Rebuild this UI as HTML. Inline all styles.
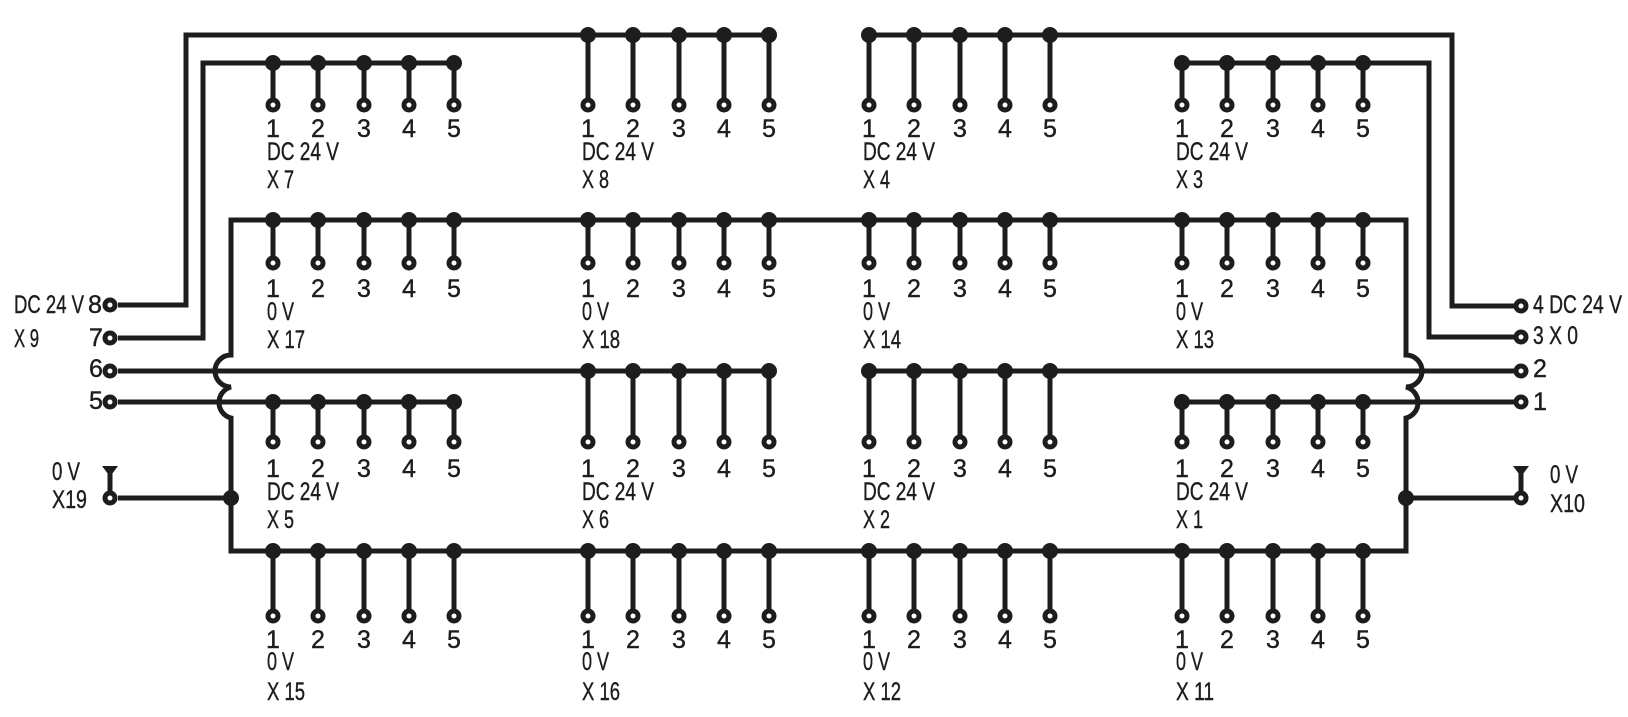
<!DOCTYPE html>
<html><head><meta charset="utf-8"><style>
html,body{margin:0;padding:0;background:#fff;}
svg{display:block}
text{font-family:"Liberation Sans",sans-serif;font-size:25px;fill:#1d1d1f;stroke:#1d1d1f;stroke-width:0.4}
</style></head><body>
<svg width="1628" height="717" viewBox="0 0 1628 717" xmlns="http://www.w3.org/2000/svg">
<g fill="none" stroke="#1d1d1f" stroke-width="5">
<path d="M118 305 H186 V35 H768"/>
<path d="M869 35 H1452 V306 H1515"/>
<path d="M118 338 H203 V63 H455"/>
<path d="M1182 63 H1429 V337 H1515"/>
<path d="M231 551 V418 A16 16 0 0 1 231 387 A16 16 0 0 1 231 355 V220 H1406 V355 A16 16 0 0 1 1406 387 A16 16 0 0 1 1406 418 V551 Z"/>
<path d="M118 371 H768"/>
<path d="M118 402 H455"/>
<path d="M869 371 H1515"/>
<path d="M1182 402 H1515"/>
<path d="M118 498 H231"/>
<path d="M1406 498 H1515"/>
<path d="M110 498 V472"/>
<path d="M1521 498 V472"/>
</g>
<g fill="#1d1d1f">
<path d="M102 466 L118 466 L112 474 L108 474 Z"/>
<path d="M1513 466 L1529 466 L1523 474 L1519 474 Z"/>
<circle cx="231" cy="498" r="8"/>
<circle cx="1406" cy="498" r="8"/>
</g>
<g fill="#fff" stroke="#1d1d1f" stroke-width="5">
<circle cx="110" cy="305" r="5"/><circle cx="110" cy="338" r="5"/>
<circle cx="110" cy="371" r="5"/><circle cx="110" cy="402" r="5"/>
<circle cx="110" cy="498" r="5"/>
<circle cx="1521" cy="306" r="5"/><circle cx="1521" cy="337" r="5"/>
<circle cx="1521" cy="371" r="5"/><circle cx="1521" cy="402" r="5"/>
<circle cx="1521" cy="498" r="5"/>
</g>
<text x="14" y="313" textLength="70" lengthAdjust="spacingAndGlyphs">DC 24 V</text>
<text x="88" y="313">8</text>
<text x="14" y="347" textLength="25" lengthAdjust="spacingAndGlyphs">X 9</text>
<text x="89" y="346">7</text>
<text x="89" y="377">6</text>
<text x="89" y="409">5</text>
<text x="52" y="480" textLength="28" lengthAdjust="spacingAndGlyphs">0 V</text>
<text x="52" y="508" textLength="35" lengthAdjust="spacingAndGlyphs">X19</text>
<text x="1533" y="313" textLength="89" lengthAdjust="spacingAndGlyphs">4 DC 24 V</text>
<text x="1533" y="344" textLength="45" lengthAdjust="spacingAndGlyphs">3 X 0</text>
<text x="1533" y="377">2</text>
<text x="1533" y="410">1</text>
<text x="1550" y="483" textLength="28" lengthAdjust="spacingAndGlyphs">0 V</text>
<text x="1550" y="512" textLength="35" lengthAdjust="spacingAndGlyphs">X10</text>
<script>
(function(){
var NS="http://www.w3.org/2000/svg",svg=document.querySelector('svg');
var gx=[273,588,869,1182],sp=45.3;
var rows=[
 {bus:[63,35,35,63],cy:105,nb:137,tb:160,xb:188,t:"DC 24 V",n:["X 7","X 8","X 4","X 3"]},
 {bus:[220,220,220,220],cy:263,nb:297,tb:320,xb:348,t:"0 V",n:["X 17","X 18","X 14","X 13"]},
 {bus:[402,371,371,402],cy:442,nb:477,tb:500,xb:528,t:"DC 24 V",n:["X 5","X 6","X 2","X 1"]},
 {bus:[551,551,551,551],cy:616,nb:648,tb:670,xb:700,t:"0 V",n:["X 15","X 16","X 12","X 11"]}
];
function el(n,a,txt){var e=document.createElementNS(NS,n);for(var k in a)e.setAttribute(k,a[k]);if(txt)e.textContent=txt;svg.appendChild(e);return e;}
rows.forEach(function(r){
 gx.forEach(function(x0,g){
  var by=r.bus[g];
  if((g==0||g==3)&&(by==63||by==402)) el('path',{d:'M'+x0+' '+by+'H'+(x0+4*sp),stroke:'#1d1d1f','stroke-width':5,fill:'none'});
  for(var i=0;i<5;i++){
   var x=Math.round(x0+i*sp);
   el('path',{d:'M'+x+' '+by+'V'+r.cy,stroke:'#1d1d1f','stroke-width':5,fill:'none'});
   el('circle',{cx:x,cy:by,r:8,fill:'#1d1d1f'});
   el('circle',{cx:x,cy:r.cy,r:5,fill:'#fff',stroke:'#1d1d1f','stroke-width':5});
   el('text',{x:x,y:r.nb,'text-anchor':'middle'},String(i+1));
  }
  var tl=r.t=="0 V"?27:72;
  el('text',{x:x0-6,y:r.tb,textLength:tl,lengthAdjust:'spacingAndGlyphs'},r.t);
  var nl=r.n[g].length==3?27:38;
  el('text',{x:x0-6,y:r.xb,textLength:nl,lengthAdjust:'spacingAndGlyphs'},r.n[g]);
 });
});
})();
</script>
</svg>
</body></html>
